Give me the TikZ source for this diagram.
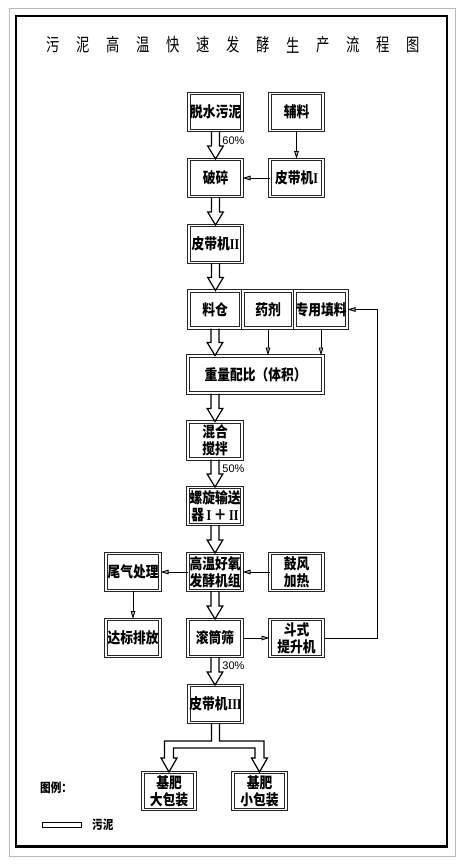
\documentclass[tikz,border=0pt]{standalone}
\usepackage{fontspec}
\setmainfont{Liberation Sans}
\newfontfamily\cjk[FakeStretch=0.85]{Noto Sans CJK SC}
\newfontfamily\cjkt[FakeStretch=0.74]{Noto Sans CJK SC}
\newfontfamily\romn[FakeStretch=0.8]{Liberation Serif}
\newcommand\rn[1]{{\romn\bfseries #1}}
\usetikzlibrary{arrows.meta,calc}
\tikzset{
  box/.style={draw=black!85, line width=1pt, double=white, double distance=1.1pt,
    inner sep=0pt, minimum width=#1, minimum height=37pt, align=center,
    font=\cjk\bfseries\fontsize{15}{17}\selectfont},
  box/.default=53pt,
  thinarr/.style={line width=0.9pt, -{Triangle[length=8pt,width=4.6pt,fill=gray!55]}},
  fat/.style={line width=1.2pt, line join=miter},
  pct/.style={font=\fontsize{11}{11}\selectfont, inner sep=0pt},
  ttl/.style={font=\cjkt\fontsize{18}{18}\selectfont, inner sep=0pt},
  leg/.style={font=\cjk\bfseries\fontsize{12.5}{13}\selectfont, inner sep=0pt}
}
% #1: node giving the x of the arrow (default: source), #2 source, #3 target
\newcommand\fatarrow[3][]{%
  \def\fx{#1}\ifx\fx\empty\def\fx{#2}\fi
  \draw[fat] let \p1=(#3.north), \p2=(#2.south), \p3=(\fx.south) in
    (\x3-4pt,\y2) -- (\x3-4pt,\y1+13pt) -- (\x3-7.8pt,\y1+13pt) -- (\x3,\y1)
    -- (\x3+7.8pt,\y1+13pt) -- (\x3+4pt,\y1+13pt) -- (\x3+4pt,\y2);}
\begin{document}
\begin{tikzpicture}[x=1pt,y=-1pt]
\useasboundingbox (0,0) rectangle (464,865);
\fill[white] (0,0) rectangle (464,865);
\draw[gray!55, line width=1pt] (9,8) rectangle (455,856);
\draw[black, line width=2.6pt] (16,16) rectangle (447,846.5);
% title
\foreach \c [count=\i from 0] in {污,泥,高,温,快,速,发,酵,生,产,流,程,图}
  \node[ttl] (t\i) at (53+30*\i,45) {\c};
% nodes
\node[box] (a) at (215.5,112) {脱水污泥};
\node[box] (b) at (296.5,112) {辅料};
\node[box] (c) at (215.5,178) {破碎};
\node[box] (d) at (296.5,178) {皮带机\rn{I}};
\node[box] (e) at (215.5,244) {皮带机\rn{II}};
\node[box=52pt] (f) at (215,309.5) {料仓};
\node[box=50pt] (yj) at (268,309.5) {药剂};
\node[box=52pt] (tl) at (321,309.5) {专用填料};
\node[box=135pt] (g) at (255.5,374.5) {重量配比（体积）};
\node[box=54pt] (h) at (215,440.5) {混合\\搅拌};
\node[box=54pt] (i) at (215,506) {螺旋输送\\器\,\rn{I}\,＋\,\rn{II}};
\node[box=54pt] (j) at (215,572) {高温好氧\\发酵机组};
\node[box=54pt] (k) at (133,572) {尾气处理};
\node[box] (l) at (296.5,572) {鼓风\\加热};
\node[box=54pt] (m) at (133,638) {达标排放};
\node[box=54pt] (n) at (215,638) {滚筒筛};
\node[box] (o) at (296.5,638) {斗式\\提升机};
\node[box] (p) at (215.5,704) {皮带机\rn{III}};
\node[box=52pt] (q) at (169,791) {基肥\\大包装};
\node[box] (r) at (259.5,791) {基肥\\小包装};
% percentages
\node[pct] (p60) at (233.5,141) {60\%};
\node[pct] (p50) at (233.5,469) {50\%};
\node[pct] (p30) at (233.5,666) {30\%};
% fat arrows
\fatarrow{a}{c}
\fatarrow{c}{e}
\fatarrow{e}{f}
\fatarrow{f}{g}
\fatarrow[h]{g}{h}
\fatarrow{h}{i}
\fatarrow{i}{j}
\fatarrow{j}{n}
\fatarrow{n}{p}
\draw[fat] let \p0=(p.south), \p1=(q.north), \p2=(r.north) in
  (\x0-4pt,\y0) -- (\x0-4pt,\y0-18pt) -- (\x1-4.5pt,\y0-18pt) -- (\x1-4.5pt,\y1+14pt)
  -- (\x1-8pt,\y1+14pt) -- (\x1,\y1) -- (\x1+8pt,\y1+14pt) -- (\x1+4.5pt,\y1+14pt)
  -- (\x1+4.5pt,\y0-25pt) -- (\x2-4.5pt,\y0-25pt) -- (\x2-4.5pt,\y1+14pt)
  -- (\x2-8pt,\y1+14pt) -- (\x2,\y1) -- (\x2+8pt,\y1+14pt) -- (\x2+4.5pt,\y1+14pt)
  -- (\x2+4.5pt,\y0-18pt) -- (\x0+4pt,\y0-18pt) -- (\x0+4pt,\y0);
% thin arrows
\draw[thinarr] (b) -- (d);
\draw[thinarr] (d) -- (c);
\draw[thinarr] (yj.south) -- (yj.south |- g.north);
\draw[thinarr] (tl.south) -- (tl.south |- g.north);
\draw[thinarr] (j) -- (k);
\draw[thinarr] (l) -- (j);
\draw[thinarr] (k) -- (m);
\draw[thinarr] (n) -- (o);
\coordinate (fb) at (377,309.5);
\draw[thinarr] (o.east) -| (fb) -- (tl.east);
% legend
\node[leg, anchor=west] (lg) at (40,788) {图例：};
\draw[line width=0.8pt] (42,822) rectangle (81,827.5);
\node[leg, anchor=west] (lw) at (92,824.5) {污泥};
\end{tikzpicture}
\end{document}
